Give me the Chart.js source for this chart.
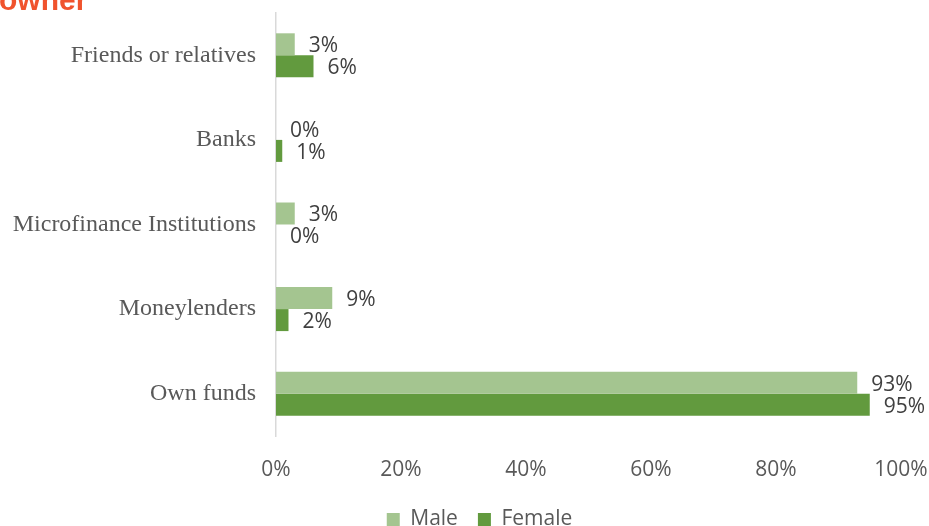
<!DOCTYPE html>
<html>
<head>
<meta charset="utf-8">
<script src="https://cdn.jsdelivr.net/npm/chart.js@4"></script>
<style>
  html, body { margin: 0; padding: 0; background: #fff; overflow: hidden; }
  #wrap { width: 929px; height: 526px; position: relative; overflow: hidden; }
</style>
</head>
<body>
<div id="wrap"><canvas id="sourceChart" width="929" height="540"></canvas></div>
<script>
const sources = ['Friends or relatives', 'Banks', 'Microfinance Institutions', 'Moneylenders', 'Own funds'];
const maleData = [3, 0, 3, 9, 93];
const femaleData = [6, 1, 0, 2, 95];
const xTicks = [0, 20, 40, 60, 80, 100];

// heading of the slide, only its lower part shows at the top edge
const headingText = {
    id: 'headingText',
    afterDraw(chart) {
        const ctx = chart.ctx;
        ctx.save();
        ctx.font = 'bold 30px "Liberation Sans", Arial, sans-serif';
        ctx.fillStyle = '#f0532d';
        ctx.textBaseline = 'alphabetic';
        ctx.fillText('owner', -1, 10);
        ctx.restore();
    }
};

// percent labels to the right of each bar
const barValues = {
    id: 'barValues',
    afterDatasetsDraw(chart) {
        const ctx = chart.ctx;
        ctx.save();
        ctx.font = '21px "Open Sans", sans-serif';
        ctx.fillStyle = '#404040';
        ctx.textBaseline = 'middle';
        chart.data.datasets.forEach((ds, i) => {
            chart.getDatasetMeta(i).data.forEach((bar, j) => {
                ctx.fillText(ds.data[j] + '%', bar.x + 14, bar.y + 2);
            });
        });
        ctx.restore();
    }
};

// legend sits a little right of the canvas centre
const legendShift = {
    id: 'legendShift',
    afterLayout(chart) {
        chart.legend.left += 29;
        chart.legend.right += 29;
    }
};

new Chart(document.getElementById('sourceChart'), {
    type: 'bar',
    data: {
        labels: sources,
        datasets: [{
            label: 'Male',
            data: maleData,
            backgroundColor: '#a4c590',
            categoryPercentage: 0.52,
            barPercentage: 1
        }, {
            label: 'Female',
            data: femaleData,
            backgroundColor: '#629a3e',
            categoryPercentage: 0.52,
            barPercentage: 1
        }]
    },
    options: {
        indexAxis: 'y',
        responsive: false,
        animation: false,
        layout: { padding: { top: 13, right: 28, bottom: 0, left: 0 } },
        scales: {
            x: {
                min: 0,
                max: 100,
                grid: { display: false },
                border: { display: false },
                afterBuildTicks(scale) {
                    scale.ticks = xTicks.map(v => ({ value: v }));
                },
                afterFit(scale) {
                    scale.height = 53;
                    scale.paddingLeft = 0;
                    scale.paddingRight = 0;
                },
                ticks: {
                    padding: 13,
                    color: '#595959',
                    font: { family: '"Open Sans", sans-serif', size: 21 },
                    callback: v => v + '%'
                }
            },
            y: {
                grid: { display: false },
                border: { display: true, color: '#d9d9d9', width: 1.5 },
                afterFit(scale) {
                    scale.width = 276;
                    scale.paddingTop = 0;
                    scale.paddingBottom = 0;
                },
                ticks: {
                    padding: 12,
                    color: '#595959',
                    font: { family: '"Liberation Serif", "Times New Roman", serif', size: 24 }
                }
            }
        },
        plugins: {
            tooltip: { enabled: false },
            legend: {
                position: 'bottom',
                labels: {
                    boxWidth: 13,
                    boxHeight: 13,
                    padding: 20,
                    color: '#595959',
                    font: { family: '"Open Sans", sans-serif', size: 21 }
                }
            }
        }
    },
    plugins: [headingText, barValues, legendShift]
});
</script>
</body>
</html>
